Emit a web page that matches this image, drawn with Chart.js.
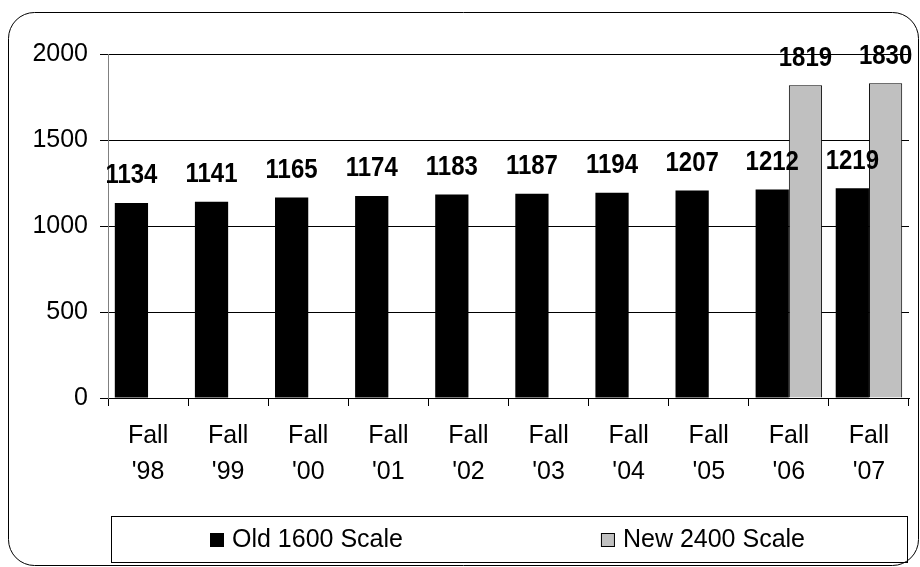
<!DOCTYPE html>
<html>
<head>
<meta charset="utf-8">
<script src="https://cdn.jsdelivr.net/npm/chart.js@4/dist/chart.umd.min.js"></script>
<style>
  html, body { margin: 0; padding: 0; background: #fff; }
  canvas { display: block; }
</style>
</head>
<body>
<canvas id="satChart" width="920" height="567"></canvas>
<script>
const categories = [
  ["Fall", "'98"], ["Fall", "'99"], ["Fall", "'00"], ["Fall", "'01"], ["Fall", "'02"],
  ["Fall", "'03"], ["Fall", "'04"], ["Fall", "'05"], ["Fall", "'06"], ["Fall", "'07"]
];
const oldScale = [1134, 1141, 1165, 1174, 1183, 1187, 1194, 1207, 1212, 1219];
const newScale = [null, null, null, null, null, null, null, null, 1819, 1830];
const yTicks = [0, 500, 1000, 1500, 2000];

const FONT = "'Liberation Sans', Arial, sans-serif";

// value labels above each bar
const barLabels = {
  id: 'barLabels',
  afterDatasetsDraw(chart) {
    const ctx = chart.ctx;
    ctx.save();
    ctx.font = 'bold 24px ' + FONT;
    ctx.fillStyle = '#000';
    ctx.textAlign = 'center';
    ctx.textBaseline = 'middle';
    chart.data.datasets.forEach((ds, i) => {
      chart.getDatasetMeta(i).data.forEach((bar, j) => {
        if (ds.data[j] == null) return;
        // slightly taller glyphs, like the original
        ctx.save();
        ctx.translate(bar.x, bar.y - 27);
        ctx.scale(1, 1.12);
        ctx.fillText(ds.data[j], 0, 0);
        ctx.restore();
      });
    });
    ctx.restore();
  }
};

// rounded frame + boxed legend
const frame = {
  id: 'frame',
  afterDraw(chart) {
    const ctx = chart.ctx;
    ctx.save();
    ctx.strokeStyle = '#000';
    ctx.lineWidth = 1;
    ctx.beginPath();
    ctx.roundRect(8.5, 12.5, 910, 553, 26);
    ctx.stroke();

    // legend box
    ctx.strokeRect(111.5, 516.5, 796, 46);
    ctx.font = '25px ' + FONT;
    ctx.textBaseline = 'alphabetic';
    const gap = 197;
    const items = chart.data.datasets.map(ds => {
      const w = ctx.measureText(ds.label).width;
      return { ds, w, total: 14 + 9 + w };
    });
    const total = items.reduce((s, it) => s + it.total, 0) + gap * (items.length - 1);
    let x = 508 - total / 2;
    items.forEach(it => {
      ctx.fillStyle = it.ds.backgroundColor;
      ctx.fillRect(x, 533, 14, 14);
      if (it.ds.borderWidth) {
        ctx.strokeStyle = '#000';
        ctx.strokeRect(x + 0.5, 533.5, 13, 13);
      }
      ctx.fillStyle = '#000';
      ctx.fillText(it.ds.label, x + 22, 547);
      x += it.total + gap;
    });
    ctx.restore();
  }
};

new Chart(document.getElementById('satChart'), {
  type: 'bar',
  data: {
    labels: categories,
    datasets: [
      {
        label: 'Old 1600 Scale',
        data: oldScale,
        backgroundColor: '#000000',
        borderWidth: 0
      },
      {
        label: 'New 2400 Scale',
        data: newScale,
        backgroundColor: '#c0c0c0',
        borderColor: '#000000',
        borderWidth: 1
      }
    ]
  },
  options: {
    responsive: false,
    animation: false,
    layout: { padding: { top: 54, right: 11, left: 0, bottom: 0 } },
    categoryPercentage: 0.83,
    barPercentage: 1.0,
    plugins: {
      legend: { display: false },
      tooltip: { enabled: false }
    },
    scales: {
      x: {
        grid: { drawOnChartArea: false, color: '#000', tickLength: 8 },
        border: { color: '#000' },
        ticks: {
          color: '#000',
          font: { family: FONT, size: 25, lineHeight: 1.44 },
          padding: 12,
          maxRotation: 0
        },
        afterFit(scale) { scale.height = 169; }
      },
      y: {
        min: 0,
        max: 2000,
        afterBuildTicks(scale) { scale.ticks = yTicks.map(v => ({ value: v })); },
        grid: { color: '#000', tickLength: 8 },
        border: { color: '#808080' },
        ticks: {
          color: '#000',
          font: { family: FONT, size: 25 },
          padding: 12,
          callback: v => String(v)
        },
        afterFit(scale) { scale.width = 108; }
      }
    }
  },
  plugins: [barLabels, frame]
});
</script>
</body>
</html>
